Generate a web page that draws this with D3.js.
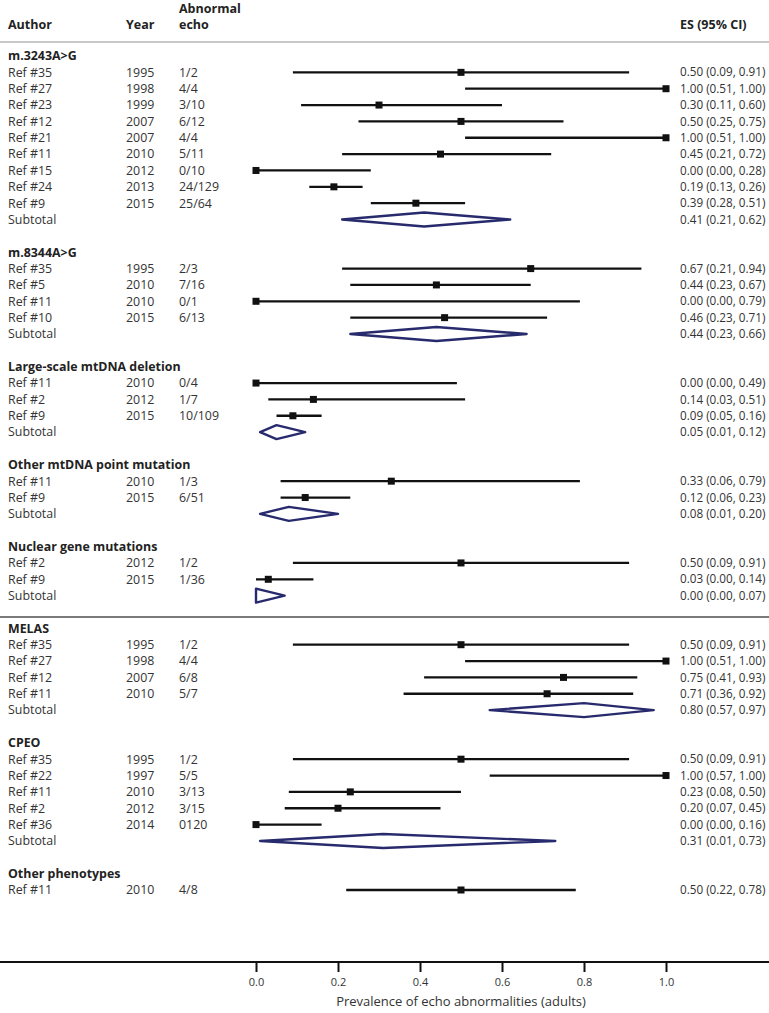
<!DOCTYPE html>
<html>
<head>
<meta charset="utf-8">
<script src="https://cdn.jsdelivr.net/npm/d3@7"></script>
<style>
  body { margin: 0; background: #fff; }
  svg { font-family: 'Open Sans', sans-serif; }
</style>
</head>
<body>
<svg id="chart" width="769" height="1013"></svg>
<script>
// subgroups, in order
const groupNames = ['m.3243A>G', 'm.8344A>G', 'Large-scale mtDNA deletion', 'Other mtDNA point mutation',
  'Nuclear gene mutations', 'MELAS', 'CPEO', 'Other phenotypes'];

// one entry per study
const studyGroup = [0, 0, 0, 0, 0, 0, 0, 0, 0, 1, 1, 1, 1, 2, 2, 2, 3, 3, 4, 4, 5, 5, 5, 5, 6, 6, 6, 6, 6, 7];
const authors = ['Ref #35', 'Ref #27', 'Ref #23', 'Ref #12', 'Ref #21', 'Ref #11', 'Ref #15', 'Ref #24', 'Ref #9',
  'Ref #35', 'Ref #5', 'Ref #11', 'Ref #10',
  'Ref #11', 'Ref #2', 'Ref #9',
  'Ref #11', 'Ref #9',
  'Ref #2', 'Ref #9',
  'Ref #35', 'Ref #27', 'Ref #12', 'Ref #11',
  'Ref #35', 'Ref #22', 'Ref #11', 'Ref #2', 'Ref #36',
  'Ref #11'];
const years = ['1995', '1998', '1999', '2007', '2007', '2010', '2012', '2013', '2015',
  '1995', '2010', '2010', '2015',
  '2010', '2012', '2015',
  '2010', '2015',
  '2012', '2015',
  '1995', '1998', '2007', '2010',
  '1995', '1997', '2010', '2012', '2014',
  '2010'];
const abnormal = ['1/2', '4/4', '3/10', '6/12', '4/4', '5/11', '0/10', '24/129', '25/64',
  '2/3', '7/16', '0/1', '6/13',
  '0/4', '1/7', '10/109',
  '1/3', '6/51',
  '1/2', '1/36',
  '1/2', '4/4', '6/8', '5/7',
  '1/2', '5/5', '3/13', '3/15', '0120',
  '4/8'];
const es = [0.50, 1.00, 0.30, 0.50, 1.00, 0.45, 0.00, 0.19, 0.39,
  0.67, 0.44, 0.00, 0.46,
  0.00, 0.14, 0.09,
  0.33, 0.12,
  0.50, 0.03,
  0.50, 1.00, 0.75, 0.71,
  0.50, 1.00, 0.23, 0.20, 0.00,
  0.50];
const lo = [0.09, 0.51, 0.11, 0.25, 0.51, 0.21, 0.00, 0.13, 0.28,
  0.21, 0.23, 0.00, 0.23,
  0.00, 0.03, 0.05,
  0.06, 0.06,
  0.09, 0.00,
  0.09, 0.51, 0.41, 0.36,
  0.09, 0.57, 0.08, 0.07, 0.00,
  0.22];
const hi = [0.91, 1.00, 0.60, 0.75, 1.00, 0.72, 0.28, 0.26, 0.51,
  0.94, 0.67, 0.79, 0.71,
  0.49, 0.51, 0.16,
  0.79, 0.23,
  0.91, 0.14,
  0.91, 1.00, 0.93, 0.92,
  0.91, 1.00, 0.50, 0.45, 0.16,
  0.78];

// pooled estimates per subgroup (null = none)
const subES = [0.41, 0.44, 0.05, 0.08, 0.00, 0.80, 0.31, null];
const subLo = [0.21, 0.23, 0.01, 0.01, 0.00, 0.57, 0.01, null];
const subHi = [0.62, 0.66, 0.12, 0.20, 0.07, 0.97, 0.73, null];

const xTicks = [0, 0.2, 0.4, 0.6, 0.8, 1.0];
const xTitle = 'Prevalence of echo abnormalities (adults)';

const fmt = d3.format('.2f');
const ciText = (e, l, h) => `${fmt(e)} (${fmt(l)}, ${fmt(h)})`;

// build row list
const rows = [];
groupNames.forEach((name, g) => {
  rows.push({ type: 'header', label: name });
  studyGroup.forEach((sg, i) => {
    if (sg === g) rows.push({ type: 'study', i });
  });
  if (subES[g] !== null) rows.push({ type: 'subtotal', g });
  if (g < groupNames.length - 1) rows.push({ type: 'blank' });
});

const svg = d3.select('#chart');
const W = +svg.attr('width');

const x = d3.scaleLinear().domain([0, 1]).range([256, 666]);
const y = d3.scaleLinear().domain([0, rows.length - 1]).range([56, 890]);

const colAuthor = 8, colYear = 126, colEcho = 179, colES = 680;
const navy = '#272a6c';

// column headers
const head = svg.append('g').attr('font-weight', 700).attr('font-size', 12.5).attr('fill', '#222');
head.append('text').attr('x', colAuthor).attr('y', 29).text('Author');
head.append('text').attr('x', colYear).attr('y', 29).text('Year');
head.append('text').attr('x', colEcho).attr('y', 13).text('Abnormal');
head.append('text').attr('x', colEcho).attr('y', 29).text('echo');
head.append('text').attr('x', colES).attr('y', 29).text('ES (95% CI)');

svg.append('line')
  .attr('x1', 0).attr('x2', W).attr('y1', 42).attr('y2', 42)
  .attr('stroke', '#c8c8c8').attr('stroke-width', 2);

// separator between genotype and phenotype blocks
const sepIdx = rows.findIndex(r => r.type === 'header' && r.label === 'MELAS');
svg.append('line')
  .attr('x1', 0).attr('x2', W)
  .attr('y1', y(sepIdx - 0.7)).attr('y2', y(sepIdx - 0.7))
  .attr('stroke', '#7a7a7a').attr('stroke-width', 2);

const body = svg.append('g').attr('font-size', 12.4).attr('fill', '#333');

rows.forEach((r, k) => {
  const yy = y(k);
  if (r.type === 'header') {
    body.append('text').attr('x', colAuthor).attr('y', yy).attr('dy', '0.35em')
      .attr('font-weight', 700).attr('fill', '#222').text(r.label);
  } else if (r.type === 'study') {
    const i = r.i;
    body.append('text').attr('x', colAuthor).attr('y', yy).attr('dy', '0.35em').text(authors[i]);
    body.append('text').attr('x', colYear).attr('y', yy).attr('dy', '0.35em').text(years[i]);
    body.append('text').attr('x', colEcho).attr('y', yy).attr('dy', '0.35em').text(abnormal[i]);
    body.append('text').attr('x', colES).attr('y', yy).attr('dy', '0.35em').attr('font-size', 11.7)
      .text(ciText(es[i], lo[i], hi[i]));
    svg.append('line')
      .attr('x1', x(lo[i])).attr('x2', x(hi[i])).attr('y1', yy).attr('y2', yy)
      .attr('stroke', '#111').attr('stroke-width', 2.3);
    svg.append('rect')
      .attr('x', x(es[i]) - 3.5).attr('y', yy - 3.5).attr('width', 7).attr('height', 7)
      .attr('fill', '#111');
  } else if (r.type === 'subtotal') {
    const g = r.g;
    body.append('text').attr('x', colAuthor).attr('y', yy).attr('dy', '0.35em').text('Subtotal');
    body.append('text').attr('x', colES).attr('y', yy).attr('dy', '0.35em').attr('font-size', 11.7)
      .text(ciText(subES[g], subLo[g], subHi[g]));
    const h = 7;
    const pts = [[x(subLo[g]), yy], [x(subES[g]), yy - h], [x(subHi[g]), yy], [x(subES[g]), yy + h]];
    svg.append('path')
      .attr('d', d3.line()(pts) + 'Z')
      .attr('fill', 'none').attr('stroke', navy).attr('stroke-width', 2.4)
      .attr('stroke-linejoin', 'round');
  }
});

// x axis
const axisY = 962;
svg.append('line')
  .attr('x1', 0).attr('x2', W).attr('y1', axisY).attr('y2', axisY)
  .attr('stroke', '#111').attr('stroke-width', 2);

const axis = svg.append('g')
  .attr('transform', `translate(0,${axisY})`)
  .call(d3.axisBottom(x).tickValues(xTicks).tickFormat(d3.format('.1f')).tickSize(10).tickPadding(6));
axis.select('.domain').remove();
axis.selectAll('.tick line').attr('stroke', '#111').attr('stroke-width', 2);
axis.selectAll('.tick text').attr('font-family', "'Open Sans', sans-serif").attr('font-size', 11).attr('fill', '#333');

svg.append('text')
  .attr('x', x(0.5)).attr('y', 1006)
  .attr('text-anchor', 'middle').attr('font-size', 13).attr('fill', '#333')
  .text(xTitle);
</script>
</body>
</html>
